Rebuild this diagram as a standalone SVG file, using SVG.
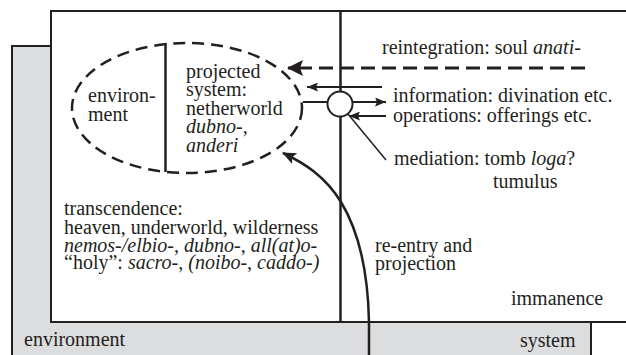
<svg xmlns="http://www.w3.org/2000/svg" width="626" height="355" viewBox="0 0 626 355">
<defs>
  <marker id="bigHead" markerUnits="userSpaceOnUse" markerWidth="16" markerHeight="16" viewBox="0 0 16 16" refX="15" refY="8" orient="auto">
    <path d="M0,0 L16,8 L0,16 L3,8 z" fill="#231f20"/>
  </marker>
  <marker id="smallHead" markerUnits="userSpaceOnUse" markerWidth="11" markerHeight="9" viewBox="0 0 11 9" refX="11" refY="4.5" orient="auto">
    <path d="M0,0 L11,4.5 L0,9 L2,4.5 z" fill="#231f20"/>
  </marker>
  <marker id="curveHead" markerUnits="userSpaceOnUse" markerWidth="14" markerHeight="12" viewBox="0 0 14 12" refX="13" refY="6" orient="auto">
    <path d="M0,0 L14,6 L0,12 L3,6 z" fill="#231f20"/>
  </marker>
</defs>

<g id="environment-box">
  <rect x="12" y="46" width="579" height="320" fill="#dcdddf" stroke="#231f20" stroke-width="2"/>
  <text x="24" y="346" font-family="Liberation Serif" font-size="20" fill="#231f20">environment</text>
  <text x="520" y="347" font-family="Liberation Serif" font-size="20" fill="#231f20">system</text>
</g>

<g id="system-box">
  <rect x="51" y="11" width="600" height="311" fill="#ffffff" stroke="#231f20" stroke-width="2"/>
  <line x1="340.5" y1="11" x2="340.5" y2="322" stroke="#231f20" stroke-width="2.5"/>
  <text x="511" y="305" font-family="Liberation Serif" font-size="20" fill="#231f20">immanence</text>
</g>

<g id="transcendence">
  <text x="64" y="215" font-family="Liberation Serif" font-size="20" fill="#231f20">transcendence:</text>
  <text x="64" y="234" font-family="Liberation Serif" font-size="20" fill="#231f20">heaven, underworld, wilderness</text>
  <text x="64" y="252" font-family="Liberation Serif" font-size="20" fill="#231f20" font-style="italic">nemos-/elbio-, dubno-, all(at)o-</text>
  <text x="64" y="269" font-family="Liberation Serif" font-size="20" fill="#231f20">“holy”: <tspan font-style="italic">sacro-, (noibo-, caddo-)</tspan></text>
</g>

<g id="projected-system">
  <ellipse cx="187" cy="108" rx="115" ry="65" fill="none" stroke="#231f20" stroke-width="2.5" stroke-dasharray="12 7"/>
  <line x1="165.5" y1="43" x2="165.5" y2="172" stroke="#231f20" stroke-width="2.5"/>
  <text x="88" y="102" font-family="Liberation Serif" font-size="20" fill="#231f20">environ-</text>
  <text x="88" y="121" font-family="Liberation Serif" font-size="20" fill="#231f20">ment</text>
  <text x="186" y="78" font-family="Liberation Serif" font-size="20" fill="#231f20">projected</text>
  <text x="186" y="96" font-family="Liberation Serif" font-size="20" fill="#231f20">system:</text>
  <text x="186" y="115" font-family="Liberation Serif" font-size="20" fill="#231f20">netherworld</text>
  <text x="186" y="133" font-family="Liberation Serif" font-size="20" fill="#231f20" font-style="italic">dubno-,</text>
  <text x="186" y="152" font-family="Liberation Serif" font-size="20" fill="#231f20" font-style="italic">anderi</text>
</g>

<g id="connectors" fill="none" stroke="#231f20">
  <line x1="585" y1="68" x2="288" y2="68" stroke-width="3" stroke-dasharray="14 7" marker-end="url(#bigHead)"/>
  <line x1="382" y1="87" x2="307" y2="87" stroke-width="2" marker-end="url(#smallHead)"/>
  <line x1="303" y1="102" x2="386" y2="102" stroke-width="2" marker-end="url(#smallHead)"/>
  <line x1="386" y1="116" x2="349" y2="116" stroke-width="2" marker-end="url(#smallHead)"/>
  <line x1="348" y1="114" x2="386" y2="160" stroke-width="1.5"/>
  <path d="M369,356 L369,322 C368,270 358,230 341,202 C325,176 304,163 283,153" stroke-width="2.5" marker-end="url(#curveHead)"/>
</g>

<g id="mediation-node">
  <circle cx="340" cy="104" r="12.5" fill="#ffffff" stroke="#231f20" stroke-width="2"/>
</g>

<g id="labels">
  <text x="382" y="54" font-family="Liberation Serif" font-size="20" fill="#231f20">reintegration: soul <tspan font-style="italic">anati-</tspan></text>
  <text x="393" y="102" font-family="Liberation Serif" font-size="20" fill="#231f20">information: divination etc.</text>
  <text x="393" y="122" font-family="Liberation Serif" font-size="20" fill="#231f20">operations: offerings etc.</text>
  <text x="394" y="165" font-family="Liberation Serif" font-size="20" fill="#231f20">mediation: tomb <tspan font-style="italic">loga</tspan>?</text>
  <text x="493" y="188" font-family="Liberation Serif" font-size="20" fill="#231f20">tumulus</text>
  <text x="375" y="252" font-family="Liberation Serif" font-size="20" fill="#231f20">re-entry and</text>
  <text x="375" y="270" font-family="Liberation Serif" font-size="20" fill="#231f20">projection</text>
</g>
</svg>
